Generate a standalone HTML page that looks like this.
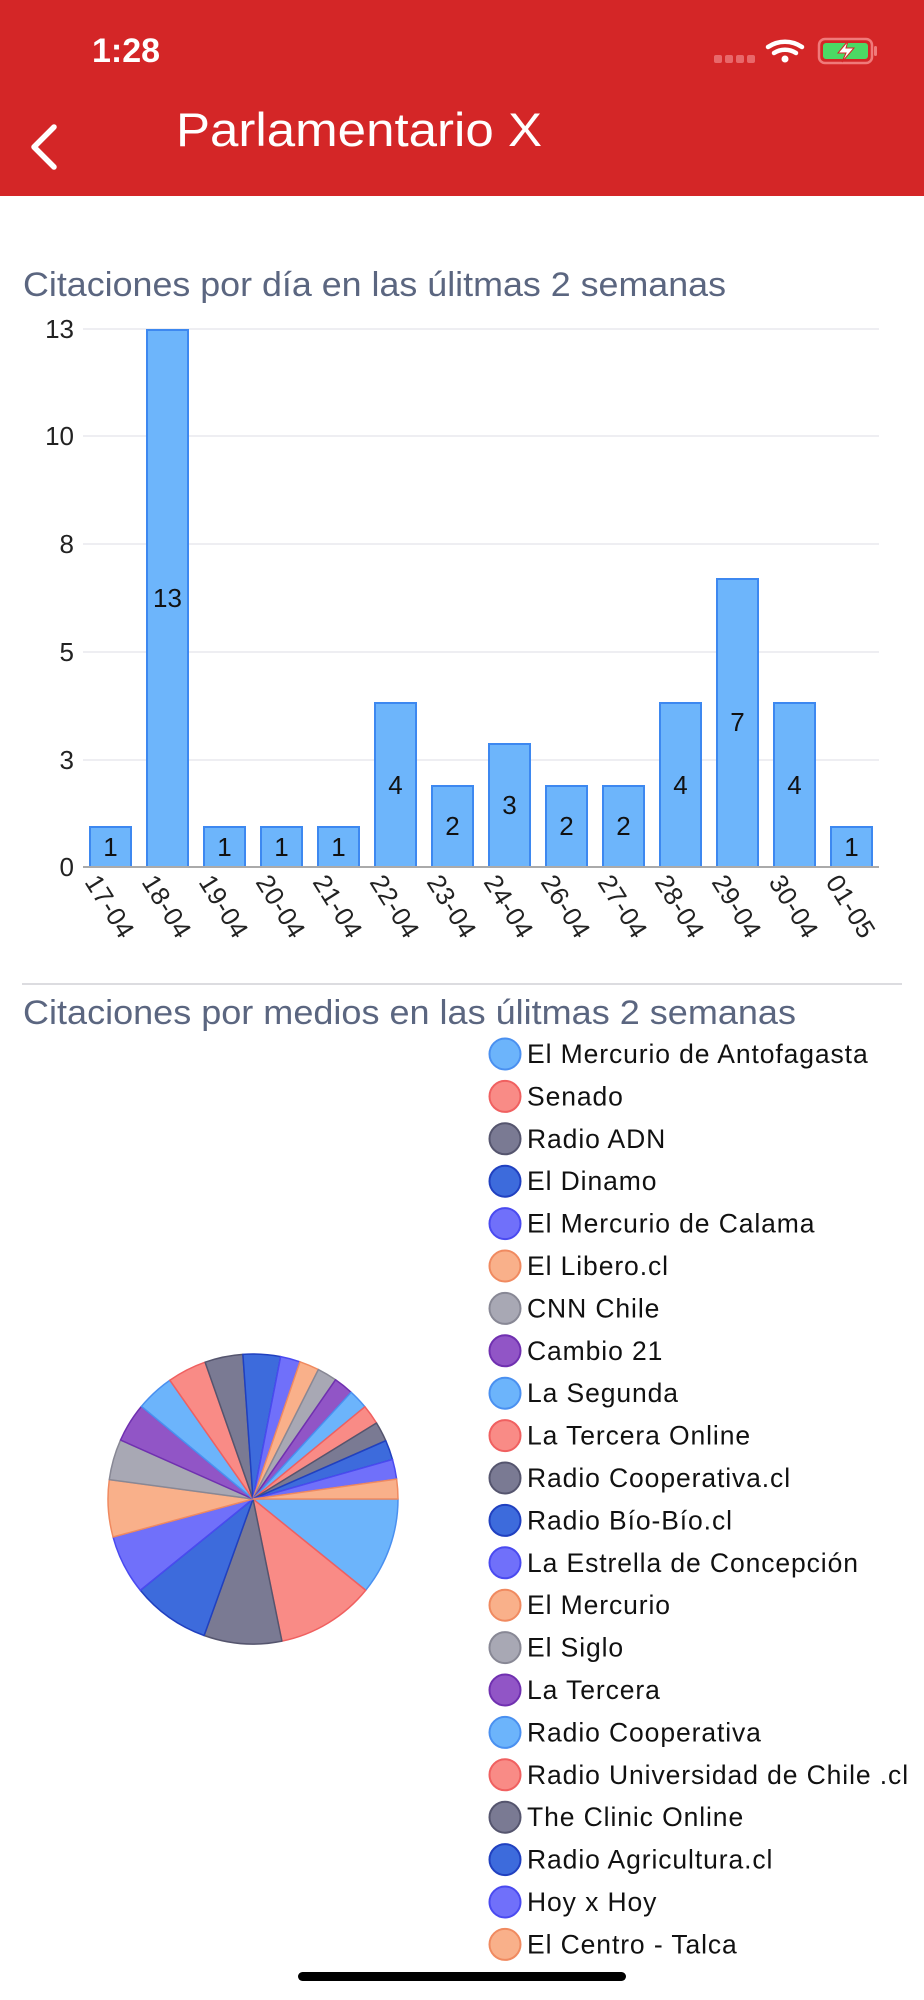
<!DOCTYPE html>
<html><head><meta charset="utf-8"><style>
html,body{margin:0;padding:0;background:#fff;}
svg{display:block;font-family:"Liberation Sans",sans-serif;}
</style></head><body>
<svg width="924" height="2000" viewBox="0 0 924 2000" xmlns="http://www.w3.org/2000/svg">
<rect x="0" y="0" width="924" height="196" fill="#d42627"/>
<text x="92" y="62" font-size="34" font-weight="bold" fill="#fff">1:28</text>
<g fill="#e8686a"><rect x="714" y="55" width="8" height="8" rx="2"/><rect x="725" y="55" width="8" height="8" rx="2"/><rect x="736" y="55" width="8" height="8" rx="2"/><rect x="747" y="55" width="8" height="8" rx="2"/></g>
<g fill="none" stroke="#fff" stroke-width="4.5" stroke-linecap="round">
<path d="M768 47 A30 30 0 0 1 802 47"/><path d="M774 53 A20 20 0 0 1 796 53"/>
</g>
<circle cx="785" cy="59" r="3.5" fill="#fff"/>
<rect x="819" y="39" width="53" height="24" rx="6" fill="none" stroke="#f07a7a" stroke-width="2.5"/>
<rect x="823" y="43" width="45" height="16" rx="3" fill="#4cd964"/>
<rect x="874" y="46" width="3" height="10" rx="1.5" fill="#f07a7a"/>
<path d="M848 41 L838 53 L846 53 L842 62 L854 48 L846 48 Z" fill="#fff" stroke="#d42627" stroke-width="1"/>
<path d="M54 127 L34 147 L54 167" fill="none" stroke="#fff" stroke-width="5.5" stroke-linecap="round" stroke-linejoin="round"/>
<text x="176" y="146" font-size="47" fill="#fff" textLength="366" lengthAdjust="spacingAndGlyphs">Parlamentario X</text>

<text x="23" y="296" font-size="34" fill="#5b6680" textLength="703" lengthAdjust="spacingAndGlyphs">Citaciones por día en las úlitmas 2 semanas</text>
<g stroke="#e9e9ee" stroke-width="1.5">
<line x1="83" y1="329" x2="879" y2="329"/><line x1="83" y1="436" x2="879" y2="436"/><line x1="83" y1="544" x2="879" y2="544"/><line x1="83" y1="652" x2="879" y2="652"/><line x1="83" y1="760" x2="879" y2="760"/>
</g>
<g font-size="26" fill="#222" text-anchor="end">
<text x="74" y="338">13</text><text x="74" y="445">10</text><text x="74" y="553">8</text><text x="74" y="661">5</text><text x="74" y="769">3</text><text x="74" y="876">0</text>
</g>
<g fill="#6db5fb" stroke="#3d88f0" stroke-width="2">
<rect x="90" y="827" width="41" height="40"/>
<rect x="147" y="330" width="41" height="537"/>
<rect x="204" y="827" width="41" height="40"/>
<rect x="261" y="827" width="41" height="40"/>
<rect x="318" y="827" width="41" height="40"/>
<rect x="375" y="703" width="41" height="164"/>
<rect x="432" y="786" width="41" height="81"/>
<rect x="489" y="744" width="41" height="123"/>
<rect x="546" y="786" width="41" height="81"/>
<rect x="603" y="786" width="41" height="81"/>
<rect x="660" y="703" width="41" height="164"/>
<rect x="717" y="579" width="41" height="288"/>
<rect x="774" y="703" width="41" height="164"/>
<rect x="831" y="827" width="41" height="40"/>
</g>
<line x1="83" y1="867" x2="879" y2="867" stroke="#aaa" stroke-width="2"/>
<g font-size="26" fill="#111" text-anchor="middle">
<text x="110.5" y="856">1</text><text x="167.5" y="607">13</text><text x="224.5" y="856">1</text><text x="281.5" y="856">1</text><text x="338.5" y="856">1</text><text x="395.5" y="794">4</text><text x="452.5" y="835">2</text><text x="509.5" y="814">3</text><text x="566.5" y="835">2</text><text x="623.5" y="835">2</text><text x="680.5" y="794">4</text><text x="737.5" y="731">7</text><text x="794.5" y="794">4</text><text x="851.5" y="856">1</text>
</g>
<g font-size="26" fill="#222" letter-spacing="0.5">
<text transform="translate(84,882) rotate(58)">17-04</text>
<text transform="translate(141,882) rotate(58)">18-04</text>
<text transform="translate(198,882) rotate(58)">19-04</text>
<text transform="translate(255,882) rotate(58)">20-04</text>
<text transform="translate(312,882) rotate(58)">21-04</text>
<text transform="translate(369,882) rotate(58)">22-04</text>
<text transform="translate(426,882) rotate(58)">23-04</text>
<text transform="translate(483,882) rotate(58)">24-04</text>
<text transform="translate(540,882) rotate(58)">26-04</text>
<text transform="translate(597,882) rotate(58)">27-04</text>
<text transform="translate(654,882) rotate(58)">28-04</text>
<text transform="translate(711,882) rotate(58)">29-04</text>
<text transform="translate(768,882) rotate(58)">30-04</text>
<text transform="translate(825,882) rotate(58)">01-05</text>
</g>
<line x1="22" y1="984" x2="902" y2="984" stroke="#dcdce0" stroke-width="2"/>
<text x="23" y="1024" font-size="34" fill="#5b6680" textLength="773" lengthAdjust="spacingAndGlyphs">Citaciones por medios en las úlitmas 2 semanas</text>

<g id="pie" stroke-width="1.5" stroke-linejoin="round"></g>

<g id="legend" font-size="26.5" fill="#111" letter-spacing="0.9"></g>

<rect x="298" y="1972" width="328" height="9" rx="4.5" fill="#000"/>
<script>
(function(){
var cols=[["#6cb4fb","#4a90f0"],["#f98b86","#f06060"],["#7a7a93","#55556e"],["#3d6bdc","#2040c0"],["#7070fa","#4a4af0"],["#f9b08a","#f08a60"],["#a8a8b4","#888895"],["#9155c6","#7030b0"]];
var names=["El Mercurio de Antofagasta","Senado","Radio ADN","El Dinamo","El Mercurio de Calama","El Libero.cl","CNN Chile","Cambio 21","La Segunda","La Tercera Online","Radio Cooperativa.cl","Radio Bío-Bío.cl","La Estrella de Concepción","El Mercurio","El Siglo","La Tercera","Radio Cooperativa","Radio Universidad de Chile .cl","The Clinic Online","Radio Agricultura.cl","Hoy x Hoy","El Centro - Talca"];
var b=[0,39,78.5,109.7,141,164.8,187.7,204,219.7,235,250.7,266,281];
for(var i=1;i<=10;i++)b.push(281+7.9*i);
b[b.length-1]=360;
var ns="http://www.w3.org/2000/svg",cx=253,cy=1499,r=145;
var pie=document.getElementById("pie"),lg=document.getElementById("legend");
for(var k=0;k<22;k++){
var a0=b[k]*Math.PI/180,a1=b[k+1]*Math.PI/180;
var p=document.createElementNS(ns,"path");
var large=(b[k+1]-b[k])>180?1:0;
p.setAttribute("d","M"+cx+" "+cy+" L"+(cx+r*Math.cos(a0))+" "+(cy+r*Math.sin(a0))+" A"+r+" "+r+" 0 "+large+" 1 "+(cx+r*Math.cos(a1))+" "+(cy+r*Math.sin(a1))+" Z");
var c=cols[k%8];p.setAttribute("fill",c[0]);p.setAttribute("stroke",c[1]);pie.appendChild(p);
var y=1054+k*42.4;
var ci=document.createElementNS(ns,"circle");ci.setAttribute("cx",505);ci.setAttribute("cy",y);ci.setAttribute("r",15.5);ci.setAttribute("fill",c[0]);ci.setAttribute("stroke",c[1]);ci.setAttribute("stroke-width",2);lg.appendChild(ci);
var t=document.createElementNS(ns,"text");t.setAttribute("x",527);t.setAttribute("y",y+9);t.textContent=names[k];lg.appendChild(t);
}
})();
</script>
</svg>
</body></html>
